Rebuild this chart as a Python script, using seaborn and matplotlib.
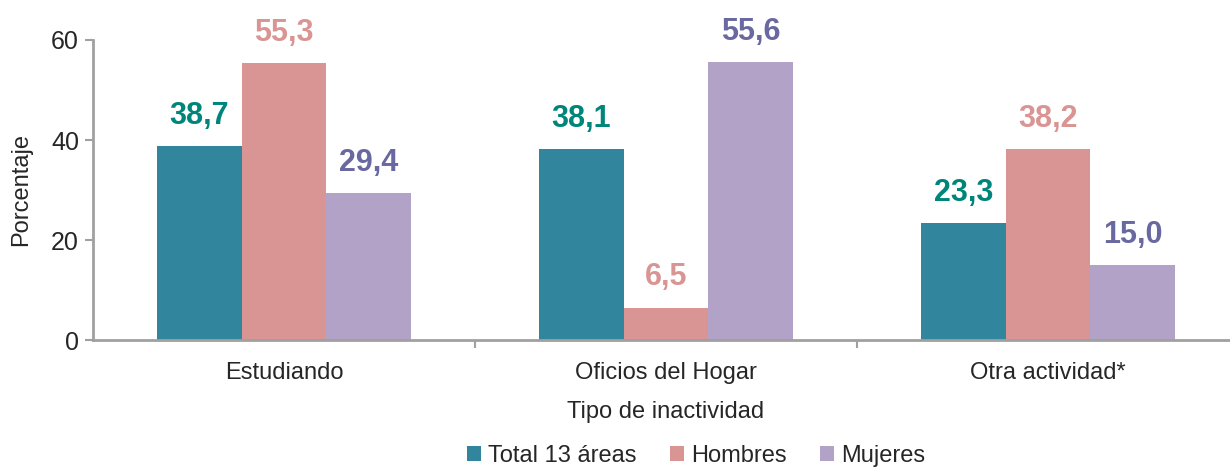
import matplotlib
matplotlib.use("Agg")
import matplotlib.pyplot as plt
import seaborn as sns
import pandas as pd
from matplotlib import font_manager

categories = ["Estudiando", "Oficios del Hogar", "Otra actividad*"]
series = ["Total 13 áreas", "Hombres", "Mujeres"]
total = [38.7, 38.1, 23.3]
hombres = [55.3, 6.5, 38.2]
mujeres = [29.4, 55.6, 15.0]
yticks = [0, 20, 40, 60]

bar_colors = ["#31859C", "#D99594", "#B2A2C7"]
label_colors = ["#00857A", "#D99594", "#6A68A0"]

sns.set_theme(style="white")
names = {f.name for f in font_manager.fontManager.ttflist}
fam = "Liberation Sans Narrow" if "Liberation Sans Narrow" in names else "Liberation Sans"
plt.rcParams["font.family"] = [fam, "DejaVu Sans"]

df = pd.DataFrame({
    "cat": categories * 3,
    "serie": [series[0]] * 3 + [series[1]] * 3 + [series[2]] * 3,
    "val": total + hombres + mujeres,
})

fig = plt.figure(figsize=(12.30, 4.69), dpi=100)
ax_w = (1239 - 93) / 1230
ax = fig.add_axes([93 / 1230, (469 - 340) / 469, ax_w, 300 / 469])
sns.barplot(data=df, x="cat", y="val", hue="serie", palette=bar_colors,
            width=0.665, ax=ax, saturation=1, errorbar=None, linewidth=0)

for i, cont in enumerate(ax.containers):
    ax.bar_label(cont, labels=[f"{v:.1f}".replace(".", ",") for v in cont.datavalues],
                 padding=11, color=label_colors[i], fontsize=22, fontweight="bold")

ax.set_ylim(0, 60)
ax.set_xlim(-0.5, 2.5)
ax.set_yticks(yticks)
ax.set_yticklabels([str(t) for t in yticks], fontsize=18)
ax.set_xticks([0, 1, 2])
ax.set_xticklabels(categories, fontsize=17)
ax.set_xticks([0.5, 1.5], minor=True)
ax.tick_params(axis="x", which="major", length=0, pad=16)
ax.tick_params(axis="x", which="minor", length=6, width=1.5, color="#A0A0A0", bottom=True)
ax.tick_params(axis="y", length=6, width=1.5, color="#A0A0A0", left=True, pad=4)
ax.set_xlabel("Tipo de inactividad", fontsize=17, labelpad=12)
ax.set_ylabel("Porcentaje", fontsize=17, labelpad=14)

for s in ["top", "right"]:
    ax.spines[s].set_visible(False)
for s in ["left", "bottom"]:
    ax.spines[s].set_color("#A0A0A0")
    ax.spines[s].set_linewidth(2)

leg_x = (696 - 93) / 1230 / ax_w
ax.legend(loc="center", bbox_to_anchor=(leg_x, -(456 - 340) / 300),
          ncol=3, frameon=False, fontsize=17, handlelength=0.6, handleheight=0.6,
          handletextpad=0.3, columnspacing=1.4)

fig.savefig("out.png", dpi=100)
